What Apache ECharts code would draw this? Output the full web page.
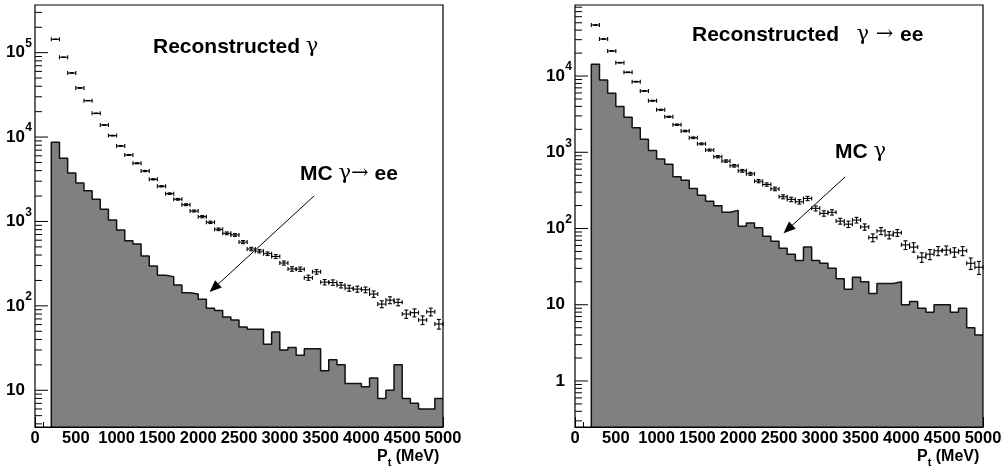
<!DOCTYPE html>
<html>
<head>
<meta charset="utf-8">
<script src="https://cdn.jsdelivr.net/npm/echarts@6/dist/echarts.min.js"></script>
<style>
  html, body { margin: 0; padding: 0; background: #fff; }
  #main { width: 1005px; height: 474px; }
</style>
</head>
<body>
<div id="main"></div>
<script>
var chart = echarts.init(document.getElementById('main'));

// bin edges in MeV (48 bins of 100 MeV, 200 -> 5000)
var binEdges = [200, 300, 400, 500, 600, 700, 800, 900, 1000, 1100, 1200, 1300, 1400, 1500,
  1600, 1700, 1800, 1900, 2000, 2100, 2200, 2300, 2400, 2500, 2600, 2700, 2800, 2900, 3000,
  3100, 3200, 3300, 3400, 3500, 3600, 3700, 3800, 3900, 4000, 4100, 4200, 4300, 4400, 4500,
  4600, 4700, 4800, 4900, 5000];

var xTickLabels = ['0', '500', '1000', '1500', '2000', '2500', '3000', '3500', '4000', '4500', '5000'];

// left pad: reconstructed gamma (points) and MC gamma->ee (filled histogram)
var recoLeft = [144000, 88200, 57400, 38200, 27000, 19100, 13900, 10400, 7850, 6140, 4890, 3960,
  3160, 2610, 2135, 1830, 1580, 1330, 1140, 977, 807, 724, 692, 570, 472, 445, 415, 385, 322,
  274, 272, 216, 253, 191, 189, 176, 162, 158, 155, 138, 105, 117, 110, 80, 83, 68, 85, 61];
var recoLeftErr = [379, 297, 240, 195, 164, 138, 118, 102, 89, 78, 70, 63, 56, 51, 46, 43, 40,
  36, 34, 31, 28, 27, 26, 24, 22, 21, 20, 20, 18, 17, 16, 15, 16, 14, 14, 13, 13, 13, 12, 12,
  10, 11, 10, 9, 9, 8, 9, 8];
var mcLeft = [8670, 5610, 3757, 2860, 2316, 1832, 1396, 1042, 793, 592, 541, 390, 297, 230, 222,
  177, 143, 138, 120, 94, 88, 74, 68, 56, 53, 53, 35, 49, 30, 32, 26, 31, 31, 17, 23, 20, 12,
  12, 11, 14, 8, 10, 20, 8, 7, 6, 6, 8];

// right pad: reconstructed gamma->ee (points) and MC gamma (filled histogram)
var recoRight = [46700, 30600, 21300, 14960, 11200, 8430, 6360, 4740, 3610, 2920, 2300, 1900,
  1550, 1290, 1070, 874, 767, 665, 571, 522, 418, 378, 331, 261, 241, 224, 248, 184, 158, 163,
  125, 114, 129, 105, 76, 93, 82, 88, 61, 57, 42, 46, 51, 52, 49, 51, 35, 31];
var recoRightErr = [216, 175, 146, 122, 106, 92, 80, 69, 60, 54, 48, 44, 39, 36, 33, 30, 28, 26,
  24, 23, 20, 19, 18, 16, 16, 15, 16, 14, 13, 13, 11, 11, 11, 10, 9, 10, 9, 9, 8, 8, 6, 7, 7,
  7, 7, 7, 6, 6];
var mcRight = [14250, 8860, 5930, 4000, 2870, 2100, 1477, 1059, 814, 694, 477, 428, 336, 274,
  227, 199, 163, 173, 107, 118, 102, 79, 68, 55, 46, 38, 57, 38, 35, 30, 22, 16, 23, 20, 14, 19,
  19, 20, 10, 11, 9, 8, 10, 10, 8, 9, 5, 4];

var leftRange = [3.67, 367000];
var rightRange = [0.249, 85500];

var FONT = 'Liberation Sans';
var GREEK = 'DejaVu Serif';
var FILL = '#808080';

// build step outline points for a filled histogram
function histPoints(edges, vals, base) {
  var pts = [[edges[0], base]];
  for (var i = 0; i < vals.length; i++) pts.push([edges[i], vals[i]]);
  pts.push([edges[edges.length - 1], vals[vals.length - 1]]);
  return pts;
}

function errData(edges, vals, errs) {
  return vals.map(function (v, i) {
    return [edges[i], edges[i + 1], v, errs[i]];
  });
}

function logTicks(range) {
  var out = [];
  var mult = [1, 2, 3, 4, 5, 6, 7, 8, 9];
  for (var d = 0.01; d <= 1e6; d *= 10) {
    mult.forEach(function (m) {
      var v = m * d;
      if (v >= range[0] && v <= range[1]) out.push([v, m === 1 ? 13 : 7]);
    });
  }
  return out;
}

function yLabel(v) {
  var lg = Math.log10(v), e = Math.round(lg);
  if (Math.abs(lg - e) > 1e-6) return '';
  if (e === 0) return '{b|1}{p| }';
  if (e === 1) return '{b|10}{p| }';
  return '{b|10}{p|' + e + '}';
}

var renderErr = function (params, api) {
  var xl = api.value(0), xr = api.value(1), v = api.value(2), e = api.value(3);
  var pl = api.coord([xl, v]), pr = api.coord([xr, v]);
  var xc = (pl[0] + pr[0]) / 2, y = pl[1];
  var yt = api.coord([xl, v + e])[1], yb = api.coord([xl, v - e])[1];
  var st = { stroke: '#000', lineWidth: 1.1 };
  var c = 2;
  return {
    type: 'group',
    children: [
      { type: 'line', shape: { x1: pl[0], y1: y, x2: pr[0], y2: y }, style: st },
      { type: 'line', shape: { x1: pl[0], y1: y - c, x2: pl[0], y2: y + c }, style: st },
      { type: 'line', shape: { x1: pr[0], y1: y - c, x2: pr[0], y2: y + c }, style: st },
      { type: 'line', shape: { x1: xc, y1: yt, x2: xc, y2: yb }, style: st },
      { type: 'line', shape: { x1: xc - c, y1: yt, x2: xc + c, y2: yt }, style: st },
      { type: 'line', shape: { x1: xc - c, y1: yb, x2: xc + c, y2: yb }, style: st }
    ]
  };
};

var renderTick = function (params, api) {
  var x0 = params.coordSys.x;
  var y = api.coord([0, api.value(0)])[1];
  return {
    type: 'line',
    shape: { x1: x0, y1: y, x2: x0 + api.value(1), y2: y },
    style: { stroke: '#000', lineWidth: 1 }
  };
};

var boldText = { fontFamily: FONT, fontWeight: 'bold', fontSize: 21, color: '#000', fill: '#000' };
var greekText = { fontFamily: GREEK, fontSize: 21, color: '#000', fill: '#000' };

function makeX(gridIndex) {
  return {
    type: 'value', gridIndex: gridIndex, min: 0, max: 5000, interval: 500,
    axisLine: { show: true, lineStyle: { color: '#000' } },
    axisTick: { show: true, inside: true, length: 10, lineStyle: { color: '#000' } },
    minorTick: { show: true, splitNumber: 5, length: 5, lineStyle: { color: '#000' } },
    splitLine: { show: false },
    axisLabel: {
      interval: 0, margin: 3, color: '#000', fontFamily: FONT, fontWeight: 'bold', fontSize: 16.5,
      formatter: function (v) { return xTickLabels[Math.round(v / 500)]; }
    }
  };
}

function makeY(gridIndex, range) {
  return {
    type: 'log', logBase: 10, gridIndex: gridIndex, min: range[0], max: range[1],
    axisLine: { show: false }, axisTick: { show: false }, splitLine: { show: false },
    axisLabel: {
      showMinLabel: false, showMaxLabel: false, margin: 3, formatter: yLabel,
      rich: {
        b: { fontFamily: FONT, fontWeight: 'bold', fontSize: 17, lineHeight: 30, color: '#000' },
        p: { fontFamily: FONT, fontWeight: 'bold', fontSize: 12, lineHeight: 12, verticalAlign: 'top', width: 7, color: '#000' }
      }
    }
  };
}

function arrowLine(from, to) {
  return {
    silent: true,
    symbol: ['none', 'triangle'],
    symbolSize: [10, 12],
    lineStyle: { color: '#000', width: 1, type: 'solid' },
    label: { show: false },
    data: [[{ coord: from }, { coord: to }]]
  };
}

function mcSeries(idx, vals, range, arrow) {
  return {
    type: 'line', xAxisIndex: idx, yAxisIndex: idx, step: 'end', symbol: 'none', z: 2,
    data: histPoints(binEdges, vals, range[0]),
    lineStyle: { color: '#111', width: 1.5 },
    areaStyle: { color: FILL, opacity: 1, origin: 'start' },
    markLine: arrow
  };
}

function ptitle(x) {
  return {
    type: 'text', left: x, top: 449, z: 20,
    style: {
      text: '{b|P}{s|t}{b| (MeV)}', fill: '#000',
      rich: {
        b: { fontFamily: FONT, fontWeight: 'bold', fontSize: 16, lineHeight: 22, fill: '#000' },
        s: { fontFamily: FONT, fontWeight: 'bold', fontSize: 11, lineHeight: 11, verticalAlign: 'bottom', fill: '#000' }
      }
    }
  };
}

function label(x, y, text) {
  return {
    type: 'text', x: x, y: y, z: 20,
    style: {
      text: text, align: 'left', verticalAlign: 'middle', fill: '#000',
      rich: { b: boldText, g: greekText }
    }
  };
}

var option = {
  animation: false,
  backgroundColor: '#fff',
  grid: [
    { left: 35, top: 5, width: 408, height: 422 },
    { left: 575, top: 5, width: 408, height: 422 }
  ],
  xAxis: [makeX(0), makeX(1)],
  yAxis: [makeY(0, leftRange), makeY(1, rightRange)],
  series: [
    mcSeries(0, mcLeft, leftRange, arrowLine([3420, 2005], [2194, 163])),
    { type: 'custom', xAxisIndex: 0, yAxisIndex: 0, z: 3, renderItem: renderErr,
      encode: { x: [0, 1], y: 2 }, data: errData(binEdges, recoLeft, recoLeftErr) },
    { type: 'custom', xAxisIndex: 0, yAxisIndex: 0, z: 4, renderItem: renderTick,
      encode: { y: 0 }, data: logTicks(leftRange) },

    mcSeries(1, mcRight, rightRange, arrowLine([3309, 473], [2610, 98])),
    { type: 'custom', xAxisIndex: 1, yAxisIndex: 1, z: 3, renderItem: renderErr,
      encode: { x: [0, 1], y: 2 }, data: errData(binEdges, recoRight, recoRightErr) },
    { type: 'custom', xAxisIndex: 1, yAxisIndex: 1, z: 4, renderItem: renderTick,
      encode: { y: 0 }, data: logTicks(rightRange) }
  ],
  graphic: [
    { type: 'rect', z: 30, shape: { x: 35, y: 5, width: 408, height: 422 },
      style: { fill: null, stroke: '#000', lineWidth: 1.2 } },
    { type: 'rect', z: 30, shape: { x: 575, y: 5, width: 408, height: 422 },
      style: { fill: null, stroke: '#000', lineWidth: 1.2 } },
    label(153, 47, '{b|Reconstructed }{g|γ}'),
    label(300, 174, '{b|MC }{g|γ→}{b| ee}'),
    label(692, 35, '{b|Reconstructed   }{g|γ → }{b|ee}'),
    label(835, 152, '{b|MC }{g|γ}'),
    ptitle(377),
    ptitle(917)
  ]
};

chart.setOption(option);
</script>
</body>
</html>
